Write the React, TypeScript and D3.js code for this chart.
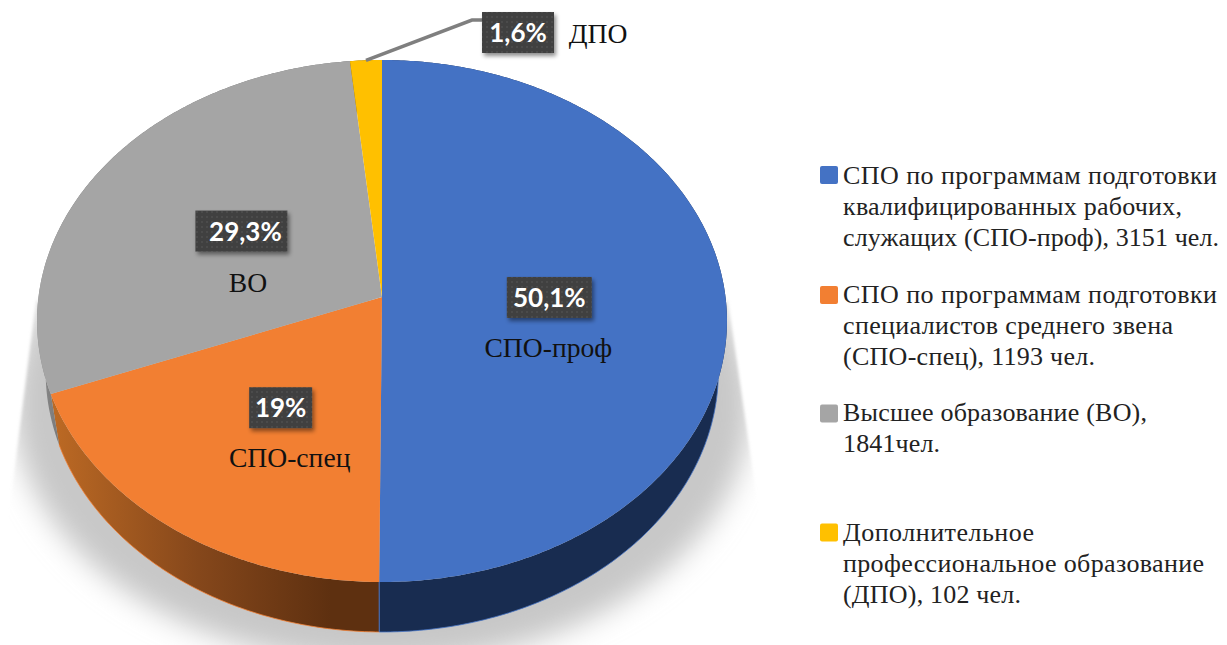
import * as d3 from 'd3';

const WIDTH = 1227;
const HEIGHT = 645;

const CATEGORIES = ['СПО-проф', 'СПО-спец', 'ВО', 'ДПО'];
const COUNTS = [3151, 1193, 1841, 102];
const PERCENT_LABELS = ['50,1%', '19%', '29,3%', '1,6%'];
const COLORS = ['#4472c4', '#f27f32', '#a5a5a5', '#ffc000'];
const SIDE_FILLS = ['#182c50', 'url(#sideOrange)', 'url(#sideGray)', '#7f6000'];
const BOX_WIDTHS = [85, 63, 92, 72];
const BOX_SHIFTS = [0, 0, 2.5, 0];
const TEXT_SHIFTS = [0, 0, 6.5, 0];
const LABEL_RADII = [0.487, 0.5, 0.5, 0.5];
const NAME_OFFSETS = [[-1, 60], [9, 59], [9, 61], [80, 10]];

const LEGEND_LINES = [
  ['СПО по программам подготовки', 'квалифицированных рабочих,', 'служащих (СПО-проф), 3151 чел.'],
  ['СПО по программам подготовки', 'специалистов среднего звена', '(СПО-спец), 1193 чел.'],
  ['Высшее образование (ВО),', '1841чел.'],
  ['Дополнительное', 'профессиональное образование', '(ДПО), 102 чел.'],
];
const LEGEND_WIDTHS = [
  [374, 339, 376],
  [374, 330, 252],
  [304, 97],
  [191, 361, 178],
];
const LEGEND_BASELINES = [184, 303, 421, 541];
const LEGEND_SWATCH_TOPS = [166, 286, 404.5, 523.5];

const serif = '"Liberation Serif", serif';

// perspective view of the unit disc, the wedges meet above the middle of the ellipse
const apex = { x: 382, y: 297 };
const tilt = -0.092;
const scaleX = 343.5;
const scaleY = 258.8;

function project(angle: number, f = 1): [number, number] {
  const u = Math.sin(angle) * f;
  const v = -Math.cos(angle) * f;
  const w = 1 + tilt * v;
  return [apex.x + (scaleX * u) / w, apex.y + (scaleY * v) / w];
}

// lower rim of the pie
function projectLower(angle: number): [number, number] {
  const [x, y] = project(angle);
  return [apex.x + (x - apex.x) * 0.975, 372 + (y - 321) * 0.996];
}

const slices = d3.pie<number>().sort(null)(COUNTS);
const line = d3.line();

function sampleAngles(a0: number, a1: number) {
  const n = Math.max(2, Math.ceil((a1 - a0) / 0.01));
  return d3.range(n + 1).map((i) => a0 + ((a1 - a0) * i) / n);
}

function topPath(a0: number, a1: number) {
  const rim = sampleAngles(a0, a1).map((a) => project(a));
  return line([[apex.x, apex.y], ...rim]) + 'Z';
}

function sidePath(a0: number, a1: number) {
  const angles = sampleAngles(a0, a1);
  const upper = angles.map((a) => project(a));
  const lower = angles.map(projectLower).reverse();
  return line([...upper, ...lower]) + 'Z';
}

function shadowPath() {
  const angles = sampleAngles(0, 2 * Math.PI);
  return line(angles.map((a) => {
    const [x, y] = project(a);
    return [apex.x + (x - apex.x) * 1.07, y + 82] as [number, number];
  })) + 'Z';
}

export default function App() {
  return (
    <svg
      width={WIDTH}
      height={HEIGHT}
      viewBox={`0 0 ${WIDTH} ${HEIGHT}`}
      style={{ position: 'absolute', left: 0, top: 0, background: '#fff' }}
    >
      <defs>
        <linearGradient id="sideOrange" gradientUnits="userSpaceOnUse" x1="50" x2="380" y1="0" y2="0">
          <stop offset="0" stopColor="#bd6a24" />
          <stop offset="0.45" stopColor="#85471b" />
          <stop offset="0.85" stopColor="#5e3010" />
          <stop offset="1" stopColor="#5e3010" />
        </linearGradient>
        <linearGradient id="sideGray" gradientUnits="userSpaceOnUse" x1="40" x2="70" y1="0" y2="0">
          <stop offset="0" stopColor="#8a8a8a" />
          <stop offset="1" stopColor="#6f6f6f" />
        </linearGradient>
        <filter id="pieShadow" x="-10%" y="-10%" width="120%" height="120%">
          <feGaussianBlur stdDeviation="14" />
        </filter>
        <filter id="softEdge" x="-5%" y="-5%" width="110%" height="110%">
          <feGaussianBlur stdDeviation="1.5" />
        </filter>
        <filter id="boxShadow" x="-20%" y="-20%" width="150%" height="150%">
          <feDropShadow dx="2" dy="3" stdDeviation="2" floodColor="#000" floodOpacity="0.45" />
        </filter>
        <pattern id="boxDots" width="5" height="5" patternUnits="userSpaceOnUse">
          <rect width="5" height="5" fill="#404040" />
          <circle cx="2" cy="2" r="0.8" fill="#5a5a5a" />
        </pattern>
        <mask id="shadowMask" maskUnits="userSpaceOnUse" x="0" y="0" width={WIDTH} height={HEIGHT}>
          <path d="M36 300 L8 520 L8 660 L760 660 L760 520 L728 300 Z" fill="#fff" filter="url(#softEdge)" />
        </mask>
      </defs>

      <g mask="url(#shadowMask)">
        <path d={shadowPath()} fill="#c8c8c8" filter="url(#pieShadow)" />
      </g>

      {slices.map((s, i) => (
        <path key={`side-${i}`} d={sidePath(s.startAngle, s.endAngle)} fill={SIDE_FILLS[i]} />
      ))}
      {slices.map((s, i) => (
        <path
          key={`edge-${i}`}
          d={line(sampleAngles(s.startAngle, s.endAngle).map(projectLower)) as string}
          fill="none"
          stroke={COLORS[i]}
          strokeWidth={0.8}
          opacity={i > 1 ? 0 : 1}
        />
      ))}
      <path
        d={line([project(slices[1].startAngle), projectLower(slices[1].startAngle)]) as string}
        stroke={COLORS[0]}
        strokeWidth={1}
      />
      {slices.map((s, i) => (
        <path key={`top-${i}`} d={topPath(s.startAngle, s.endAngle)} fill={COLORS[i]} />
      ))}

      {slices.map((s, i) => {
        const mid = (s.startAngle + s.endAngle) / 2;
        const outside = i === 3;
        const [px, py] = project(mid, LABEL_RADII[i]);
        const cx = outside ? 518 : px;
        const cy = outside ? 32.5 : py;
        const w = BOX_WIDTHS[i];
        const boxX = cx + BOX_SHIFTS[i] - w / 2;
        return (
          <g key={`label-${i}`}>
            {outside && (
              <path
                d={line([project(mid), [472, 20], [boxX, 20]]) as string}
                fill="none"
                stroke="#7f7f7f"
                strokeWidth={3.5}
              />
            )}
            <rect x={boxX} y={cy - 20.5} width={w} height={41} fill="url(#boxDots)" filter="url(#boxShadow)" />
            <text
              x={cx + TEXT_SHIFTS[i]}
              y={cy + 9.5}
              textAnchor="middle"
              fill="#fff"
              fontFamily="Lato, sans-serif"
              fontWeight={700}
              fontSize={26}
            >
              {PERCENT_LABELS[i]}
            </text>
            <text
              x={cx + NAME_OFFSETS[i][0]}
              y={cy + NAME_OFFSETS[i][1]}
              textAnchor="middle"
              fill="#111"
              fontFamily={serif}
              fontSize={27.6}
            >
              {CATEGORIES[i]}
            </text>
          </g>
        );
      })}

      {LEGEND_LINES.map((lines, i) => (
        <g key={`legend-${i}`}>
          <rect x={820} y={LEGEND_SWATCH_TOPS[i]} width={18} height={18} rx={2} fill={COLORS[i]} />
          {lines.map((t, j) => (
            <text
              key={j}
              x={843}
              y={LEGEND_BASELINES[i] + j * 31}
              fill="#222"
              fontFamily={serif}
              fontSize={26}
              textLength={LEGEND_WIDTHS[i][j]}
              lengthAdjust="spacing"
            >
              {t}
            </text>
          ))}
        </g>
      ))}
    </svg>
  );
}
